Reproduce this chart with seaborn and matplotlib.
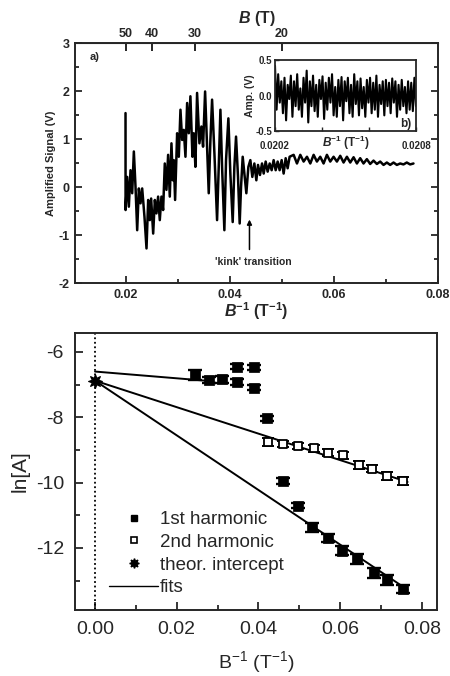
import numpy as np
import pandas as pd
import matplotlib
matplotlib.use("Agg")
import matplotlib.pyplot as plt
import seaborn as sns
from matplotlib.lines import Line2D
from matplotlib.ticker import MultipleLocator, FixedLocator, NullFormatter

# ---------------- panel a: amplified signal vs inverse field ----------------
sig_x = [0.0200, 0.02001, 0.02032, 0.02064, 0.02096, 0.02128, 0.0216, 0.02192, 0.02224, 0.02256,
         0.02288, 0.0232, 0.02364, 0.02403, 0.02435, 0.02467, 0.02492, 0.02531, 0.02563, 0.02594,
         0.02626, 0.02658, 0.0269, 0.02722, 0.02754, 0.02786, 0.02818, 0.0285, 0.02882, 0.02908,
         0.02927, 0.02952, 0.02991, 0.03023, 0.03055, 0.03087, 0.03119, 0.03151, 0.03183, 0.03215,
         0.03246, 0.03285, 0.0331, 0.03342, 0.03374, 0.03419, 0.03457, 0.03489, 0.03528, 0.03566,
         0.03598, 0.0363, 0.03662, 0.03707, 0.03758, 0.0379, 0.03822, 0.03854, 0.03898, 0.0393,
         0.03975, 0.04013, 0.04058, 0.0409, 0.04122, 0.0416, 0.04192, 0.04218, 0.0425, 0.04288,
         0.0432, 0.04359, 0.04397, 0.04435, 0.04474, 0.04512, 0.04544, 0.04582, 0.04621, 0.04653,
         0.04691, 0.04729, 0.04768, 0.04806, 0.04844, 0.04883, 0.04921, 0.04959, 0.04998, 0.05036,
         0.05075, 0.05113, 0.05151, 0.05228, 0.05292, 0.05356, 0.0542, 0.05484, 0.05548, 0.05612,
         0.05675, 0.05739, 0.05803, 0.05867, 0.05931, 0.05995, 0.06059, 0.06123, 0.06187, 0.06251,
         0.06315, 0.06379, 0.06443, 0.06506, 0.0657, 0.06634, 0.06698, 0.06762, 0.06826, 0.0689,
         0.06954, 0.07018, 0.07082, 0.07146, 0.0721, 0.07274, 0.07337, 0.07401, 0.07465, 0.07529]
sig_y = [1.54, -0.48, 0.21, -0.41, 0.35, -0.13, 0.74, 0.00, -0.90, -0.03,
         -0.34, -0.03, -0.62, -1.28, -0.27, -0.69, -0.24, -0.97, -0.27, -0.55,
         -0.20, -0.69, -0.20, -0.48, 0.49, -0.06, 0.67, -0.20, 0.91, 0.14,
         0.56, -0.27, 1.12, 0.63, 1.61, 0.98, 1.19, 0.63, 1.75, 1.12,
         1.89, 0.63, 1.12, 0.42, 1.96, 0.91, 1.26, 0.84, 1.99, 0.84,
         -0.13, 0.98, 1.82, 0.70, -0.69, 0.42, 1.61, 0.42, -0.90, 0.56,
         1.43, 0.28, -0.73, 0.42, 1.05, 0.21, -0.76, 0.00, 0.63, 0.21,
         -0.13, 0.42, 0.56, 0.21, 0.49, 0.14, 0.46, 0.25, 0.49, 0.28,
         0.53, 0.32, 0.49, 0.35, 0.56, 0.35, 0.53, 0.35, 0.56, 0.28,
         0.60, 0.39, 0.63, 0.67, 0.49, 0.67, 0.53, 0.63, 0.49, 0.67,
         0.53, 0.63, 0.49, 0.67, 0.53, 0.63, 0.53, 0.65, 0.51, 0.63,
         0.51, 0.62, 0.49, 0.60, 0.49, 0.58, 0.48, 0.55, 0.48, 0.53,
         0.46, 0.51, 0.46, 0.51, 0.46, 0.49, 0.47, 0.51, 0.47, 0.49]

ins_y = [0.42, -0.20, 0.30, -0.10, 0.20, -0.25, 0.25, -0.35, 0.15, -0.05,
         0.28, -0.30, 0.20, -0.15, 0.30, -0.20, 0.10, -0.30, 0.25, -0.10,
         0.35, -0.38, 0.20, -0.15, 0.28, -0.22, 0.15, -0.30, 0.22, -0.05,
         0.27, -0.33, 0.18, -0.20, 0.25, -0.10, 0.30, -0.28, 0.12, -0.30,
         0.22, -0.15, 0.26, -0.35, 0.20, -0.08, 0.25, -0.25, 0.15, -0.30,
         0.30, -0.12, 0.20, -0.28, 0.24, -0.18, 0.12, -0.30, 0.22, -0.10,
         0.25, -0.25, 0.18, -0.20, 0.28, -0.30, 0.15, -0.12, 0.20, -0.28,
         0.22, -0.15, 0.18, -0.25, 0.24, -0.10, 0.20, -0.30, 0.15, -0.20,
         0.22, -0.15, 0.12, -0.25, 0.20, -0.20, 0.18, -0.22, 0.25, -0.15]
ins_x = np.linspace(0.0202, 0.0208, len(ins_y))

b_ticks = [50, 40, 30, 20]

# ---------------- panel: ln amplitude vs inverse field ----------------
h1_x = [0.0245, 0.0278, 0.0310, 0.0347, 0.0347, 0.0388, 0.0388, 0.0420, 0.0461, 0.0498,
        0.0531, 0.0571, 0.0604, 0.0641, 0.0682, 0.0714, 0.0755]
h1_y = [-6.70, -6.86, -6.84, -6.45, -6.92, -6.47, -7.10, -8.03, -9.95, -10.71,
        -11.37, -11.70, -12.09, -12.34, -12.77, -12.97, -13.26]
h1_e = [0.15, 0.10, 0.10, 0.08, 0.08, 0.08, 0.08, 0.08, 0.08, 0.08,
        0.13, 0.13, 0.14, 0.14, 0.15, 0.15, 0.12]
h2_x = [0.0424, 0.0461, 0.0498, 0.0535, 0.0571, 0.0608, 0.0645, 0.0678, 0.0714, 0.0755]
h2_y = [-8.76, -8.82, -8.88, -8.95, -9.08, -9.17, -9.46, -9.57, -9.80, -9.95]
h2_e = [0.12, 0.10, 0.10, 0.10, 0.10, 0.10, 0.12, 0.12, 0.13, 0.13]
theo_x = [0.0]
theo_y = [-6.88]
fit1_x, fit1_y = [0.0, 0.029], [-6.60, -6.90]
fit2_x, fit2_y = [0.0, 0.0765], [-6.88, -9.98]
fit3_x, fit3_y = [0.0, 0.0765], [-6.88, -13.28]

sns.set_style("ticks")
plt.rcParams['font.family'] = ['Liberation Sans', 'DejaVu Sans']
plt.rcParams['axes.unicode_minus'] = False
plt.rcParams['mathtext.fontset'] = 'custom'
plt.rcParams['mathtext.rm'] = 'Liberation Sans'
plt.rcParams['mathtext.it'] = 'Liberation Sans:italic'
plt.rcParams['mathtext.bf'] = 'Liberation Sans:bold'
plt.rcParams['mathtext.bfit'] = 'Liberation Sans:bold:italic'
plt.rcParams['mathtext.default'] = 'regular'

fig = plt.figure(figsize=(4.5, 6.76), dpi=100)
W, H = 450, 676

def frac(l, t, r, b):
    return [l / W, 1 - b / H, (r - l) / W, (b - t) / H]

# ---- top panel ----
ax1 = fig.add_axes(frac(75, 43, 438, 283))
sns.lineplot(x=sig_x, y=sig_y, ax=ax1, color='black', lw=1.8, sort=False, estimator=None)
ax1.set_xlim(0.0103, 0.08)
ax1.set_ylim(-2, 3)
ax1.xaxis.set_major_locator(MultipleLocator(0.02))
ax1.xaxis.set_minor_locator(MultipleLocator(0.01))
ax1.yaxis.set_major_locator(MultipleLocator(1))
ax1.yaxis.set_minor_locator(MultipleLocator(0.5))
ax1.set_xticks([0.02, 0.04, 0.06, 0.08])
ax1.set_xticklabels(['0.02', '0.04', '0.06', '0.08'])
ax1.tick_params(which='both', direction='in', right=True, labelsize=9, width=1.3)
ax1.tick_params(which='major', length=5, pad=4)
ax1.tick_params(which='minor', length=3)
for lab in ax1.get_xticklabels() + ax1.get_yticklabels():
    lab.set_fontweight('bold')
for s in ax1.spines.values():
    s.set_linewidth(1.4)
ax1.set_xlabel(r'$\mathbfit{B}^{\mathbf{-1}}$ $\mathbf{(T^{-1})}$', fontsize=11.5, labelpad=0)
ax1.set_ylabel('Amplified Signal (V)', fontsize=8, fontweight='bold', labelpad=2)
ax1.text(0.04, 0.93, 'a)', transform=ax1.transAxes, fontsize=8, fontweight='bold')
ax1.annotate('', xy=(0.0438, -0.62), xytext=(0.0438, -1.36),
             arrowprops=dict(arrowstyle='-|>', color='black', lw=1.1, mutation_scale=7))
ax1.text(0.0445, -1.56, "'kink' transition", fontsize=7.5, fontweight='bold', ha='center', va='center')

inv = lambda v: 1.0 / np.asarray(v, dtype=float)
secax = ax1.secondary_xaxis('top', functions=(inv, inv))
secax.xaxis.set_major_locator(FixedLocator(b_ticks))
secax.xaxis.set_minor_locator(FixedLocator([]))
secax.tick_params(direction='in', length=6, width=1.4, labelsize=9, pad=2)
for lab in secax.get_xticklabels():
    lab.set_fontweight('bold')
secax.set_xlabel(r'$\mathbfit{B}$ $\mathbf{(T)}$', fontsize=11.5, labelpad=4)

# inset
axi = fig.add_axes(frac(275, 60, 416, 131))
sns.lineplot(x=ins_x, y=ins_y, ax=axi, color='black', lw=1.5, sort=False, estimator=None)
axi.set_xlim(0.0202, 0.0208)
axi.set_ylim(-0.5, 0.5)
axi.set_yticks([-0.5, 0.0, 0.5])
axi.set_yticklabels(['-0.5', '0.0', '0.5'])
axi.set_xticks([0.0202, 0.0204, 0.0206, 0.0208])
axi.set_xticklabels(['0.0202', '', '', '0.0208'])
axi.tick_params(axis='y', direction='in', length=3, width=1.0, labelsize=7, pad=2)
axi.tick_params(axis='x', direction='in', length=3, width=1.0, labelsize=7, pad=7)
for lab in axi.get_xticklabels() + axi.get_yticklabels():
    lab.set_fontweight('bold')
for s in axi.spines.values():
    s.set_linewidth(1.3)
axi.set_ylabel('Amp. (V)', fontsize=7.5, fontweight='bold', labelpad=0)
axi.set_xlabel(r'$\mathbfit{B}^{\mathbf{-1}}$ $\mathbf{(T^{-1})}$', fontsize=8.5, labelpad=-12)
axi.text(0.97, 0.06, 'b)', transform=axi.transAxes, fontsize=8.5, fontweight='bold', ha='right')

# ---- bottom panel ----
ax2 = fig.add_axes(frac(75, 333, 437, 610))
ax2.axvline(0, color='black', ls=(0, (1, 1.5)), lw=1.3)
for fx, fy in [(fit1_x, fit1_y), (fit2_x, fit2_y), (fit3_x, fit3_y)]:
    sns.lineplot(x=fx, y=fy, ax=ax2, color='black', lw=1.4, estimator=None)
ax2.errorbar(h1_x, h1_y, yerr=h1_e, fmt='none', ecolor='black', elinewidth=1.5, capsize=4.8, capthick=1.7)
ax2.errorbar(h2_x, h2_y, yerr=h2_e, fmt='none', ecolor='black', elinewidth=1.2, capsize=4.0, capthick=1.4)
sns.scatterplot(x=h1_x, y=h1_y, ax=ax2, marker='s', s=42, color='black', edgecolor='black', zorder=5)
sns.scatterplot(x=h2_x, y=h2_y, ax=ax2, marker='s', s=32, facecolor='white', edgecolor='black',
                linewidth=1.3, zorder=5)
sns.scatterplot(x=theo_x, y=theo_y, ax=ax2, marker=(8, 1, 0), s=100, color='black', edgecolor='black',
                zorder=6)
ax2.set_xlim(-0.0049, 0.0837)
ax2.set_ylim(-13.9, -5.42)
ax2.xaxis.set_major_locator(MultipleLocator(0.02))
ax2.xaxis.set_minor_locator(MultipleLocator(0.01))
ax2.yaxis.set_major_locator(MultipleLocator(2))
ax2.yaxis.set_minor_locator(MultipleLocator(1))
ax2.set_xticks([0.0, 0.02, 0.04, 0.06, 0.08])
ax2.set_xticklabels(['0.00', '0.02', '0.04', '0.06', '0.08'])
ax2.tick_params(which='both', direction='in', labelsize=14, width=1.3)
ax2.tick_params(which='major', length=6, pad=8)
ax2.tick_params(which='minor', length=3.5)
for s in ax2.spines.values():
    s.set_linewidth(1.4)
ax2.set_xlabel('B$^{-1}$ (T$^{-1}$)', fontsize=14, labelpad=8)
ax2.set_ylabel('ln[A]', fontsize=15, labelpad=4)

handles = [Line2D([], [], ls='none', marker='s', ms=5, color='black'),
           Line2D([], [], ls='none', marker='s', ms=5, mfc='white', mec='black', mew=1.2),
           Line2D([], [], ls='none', marker=(8, 1, 0), ms=7, color='black'),
           Line2D([], [], color='black', lw=1.0)]
ax2.legend(handles, ['1st harmonic', '2nd harmonic', 'theor. intercept', 'fits'],
           loc='upper left', bbox_to_anchor=(0.095, 0.357), frameon=False, fontsize=13.5,
           handlelength=2.6, handletextpad=0.1, labelspacing=0.3, borderpad=0, borderaxespad=0)

fig.savefig('out.png', dpi=100)
